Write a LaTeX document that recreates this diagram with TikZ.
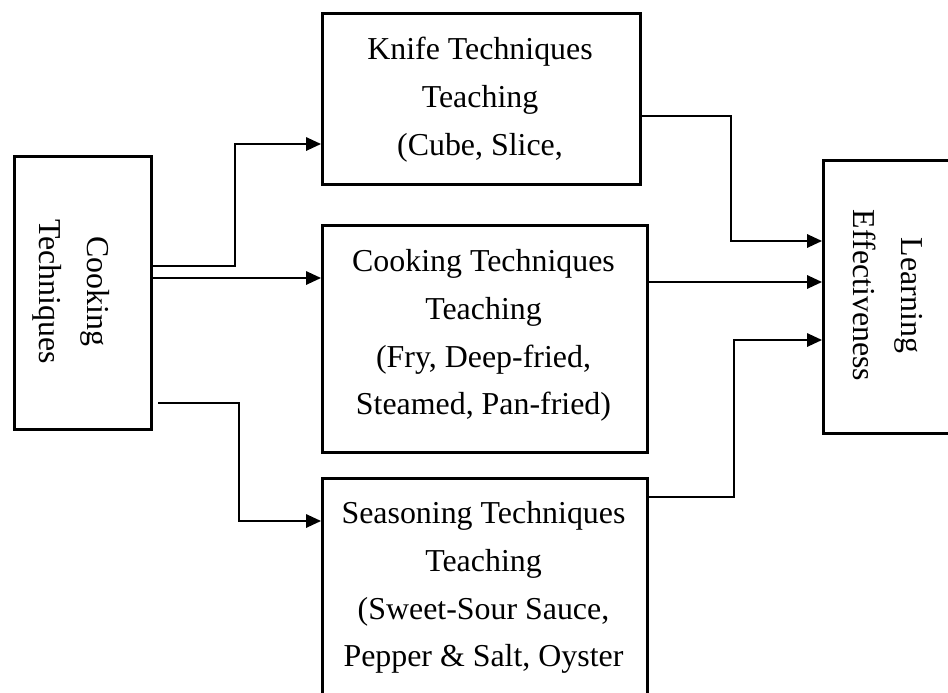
\documentclass[tikz,border=0pt]{standalone}
\usepackage{fontspec}
\setmainfont{Liberation Serif}
\usetikzlibrary{arrows.meta}
\begin{document}
\begin{tikzpicture}[x=1pt,y=-1pt,
  blockbox/.style={draw, line width=2.6pt, inner sep=0pt, anchor=north west},
  blocktext/.style={inner sep=0pt, anchor=north, align=center,
    font=\fontsize{31.9}{47.7}\selectfont},
  conn/.style={line width=1.7pt},
  arr/.style={conn, -{Triangle[length=15pt, width=13.5pt]}}]
  \useasboundingbox (0,0) rectangle (948,693);
  \clip (0,0) rectangle (948,693);

  % boxes
  \node[blockbox, minimum width=137pt, minimum height=273pt] (ct) at (13,155) {};
  \node[blockbox, minimum width=318pt, minimum height=171pt] (kn) at (321,12) {};
  \node[blockbox, minimum width=325pt, minimum height=227pt] (ck) at (321,224) {};
  \node[blockbox, minimum width=325pt, minimum height=260pt] (ss) at (321,477) {};
  \node[blockbox, minimum width=135pt, minimum height=273pt] (le) at (822,159) {};

  % labels
  \node[blocktext, rotate=-90] (ctl) at (109.5,291.5) {Cooking\\Techniques};
  \node[blocktext] (knl) at (480,37.3) {Knife Techniques\\Teaching\\(Cube, Slice,};
  \node[blocktext] (ckl) at (483.5,249.3) {Cooking Techniques\\Teaching\\(Fry, Deep-fried,\\Steamed, Pan-fried)};
  \node[blocktext] (ssl) at (483.5,501.3) {Seasoning Techniques\\Teaching\\(Sweet-Sour Sauce,\\Pepper \& Salt, Oyster};
  \node[blocktext, rotate=-90] (lel) at (922.5,295.5) {Learning\\Effectiveness};

  % connectors
  \coordinate (sstart) at (158,403);
  \draw[arr] (ct.east |- 0,266) -| (235,144) -- (kn.west |- 0,144);
  \draw[arr] (ct.east |- 0,278) -- (ck.west |- 0,278);
  \draw[arr] (sstart) -| (239,521) -- (ss.west |- 0,521);
  \draw[arr] (kn.east |- 0,116) -| (731,241) -- (le.west |- 0,241);
  \draw[arr] (ck.east |- 0,282) -- (le.west |- 0,282);
  \draw[arr] (ss.east |- 0,497) -| (734,340) -- (le.west |- 0,340);
\end{tikzpicture}
\end{document}
